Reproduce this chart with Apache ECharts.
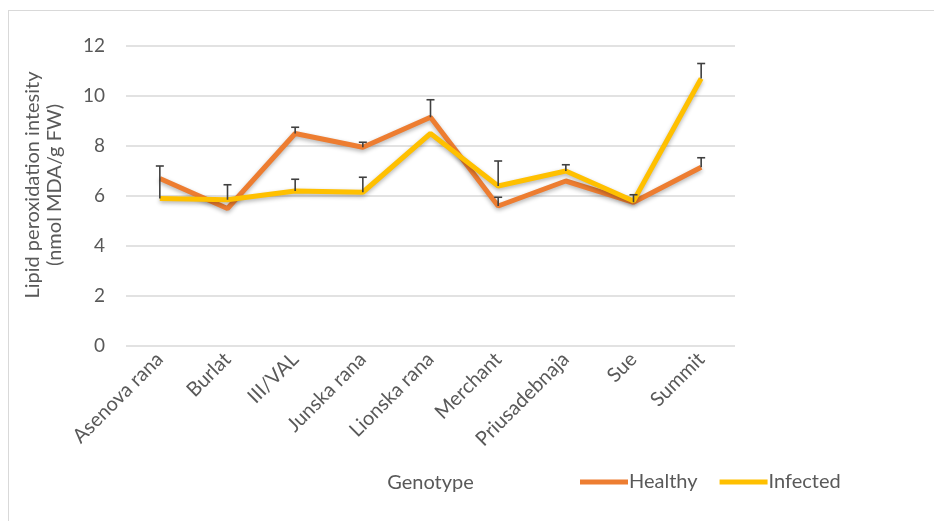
<!DOCTYPE html>
<html><head><meta charset="utf-8">
<script src="https://cdn.jsdelivr.net/npm/echarts@6/dist/echarts.min.js"></script>
<style>html,body{margin:0;padding:0;background:#fff}#c{width:934px;height:521px}
#frame{position:absolute;left:8px;top:10px;width:940px;height:520px;border:1px solid #d9d9d9;box-sizing:border-box;pointer-events:none}</style>
</head><body><div id="c"></div><div id="frame"></div>
<script>
const categories = ['Asenova rana','Burlat','III/VAL','Junska rana','Lionska rana','Merchant','Priusadebnaja','Sue','Summit'];
const healthy = [6.7, 5.5, 8.5, 7.95, 9.15, 5.6, 6.6, 5.75, 7.15];
const infected = [5.9, 5.85, 6.2, 6.15, 8.5, 6.4, 7.0, 5.8, 10.7];
const healthyErr = [null, null, 0.25, 0.2, 0.7, 0.35, null, 0.3, 0.38];
const infectedErr = [1.3, 0.6, 0.47, 0.6, null, 1.0, 0.25, null, 0.6];
const yTicks = [0, 2, 4, 6, 8, 10, 12];

const FONT = 'Lato';
const TXT = '#595959';

function errData(vals, errs) {
  const out = [];
  vals.forEach((v, i) => { if (errs[i] != null) out.push([i, v, v + errs[i]]); });
  return out;
}
function errRender(params, api) {
  const x = api.value(0);
  const lo = api.coord([x, api.value(1)]);
  const hi = api.coord([x, api.value(2)]);
  const hw = 4;
  const st = { stroke: '#404040', lineWidth: 1.6 };
  return { type: 'group', children: [
    { type: 'line', shape: { x1: lo[0], y1: lo[1], x2: hi[0], y2: hi[1] }, style: st },
    { type: 'line', shape: { x1: hi[0] - hw, y1: hi[1], x2: hi[0] + hw, y2: hi[1] }, style: st }
  ]};
}
const lineShadow = { shadowColor: 'rgba(0,0,0,0.3)', shadowBlur: 4, shadowOffsetY: 2 };

const chart = echarts.init(document.getElementById('c'));
chart.setOption({
  animation: false,
  textStyle: { fontFamily: FONT },
  grid: { left: 126, right: 199, top: 46, bottom: 175 },
  legend: {
    data: [{ name: 'Healthy', icon: 'rect' }, { name: 'Infected', icon: 'rect' }],
    left: 580, top: 472, padding: 0, itemWidth: 48, itemHeight: 5, itemGap: 22,
    textStyle: { fontFamily: FONT, fontSize: 20, color: TXT, padding: [0, 0, 0, -4] }
  },
  xAxis: {
    type: 'category', data: categories, boundaryGap: true,
    name: 'Genotype', nameLocation: 'middle', nameGap: 127,
    nameTextStyle: { fontFamily: FONT, fontSize: 20, color: TXT },
    axisLine: { show: false }, axisTick: { show: false },
    axisLabel: { rotate: 45, interval: 0, fontFamily: FONT, fontSize: 20, color: TXT, margin: 10 }
  },
  yAxis: {
    type: 'value', min: yTicks[0], max: yTicks[yTicks.length - 1], interval: 2,
    name: 'Lipid peroxidation intesity\n(nmol MDA/g FW)', nameLocation: 'middle', nameGap: 60, nameRotate: 90,
    nameTextStyle: { fontFamily: FONT, fontSize: 20, color: TXT, lineHeight: 22, padding: [0, 0, 0, 22] },
    axisLine: { show: false }, axisTick: { show: false },
    axisLabel: { fontFamily: FONT, fontSize: 19, color: TXT, margin: 21 },
    splitLine: { lineStyle: { color: '#d9d9d9', width: 1.5 } }
  },
  series: [
    { name: 'Healthy', type: 'line', data: healthy, symbol: 'none', z: 2,
      itemStyle: { color: '#ED7D31' }, lineStyle: Object.assign({ color: '#ED7D31', width: 5 }, lineShadow) },
    { name: 'Infected', type: 'line', data: infected, symbol: 'none', z: 3,
      itemStyle: { color: '#FFC000' }, lineStyle: Object.assign({ color: '#FFC000', width: 5 }, lineShadow) },
    { name: 'hErr', type: 'custom', renderItem: errRender, data: errData(healthy, healthyErr), z: 4, silent: true, encode: { x: 0, y: [1, 2] } },
    { name: 'iErr', type: 'custom', renderItem: errRender, data: errData(infected, infectedErr), z: 4, silent: true, encode: { x: 0, y: [1, 2] } }
  ]
});
</script></body></html>
